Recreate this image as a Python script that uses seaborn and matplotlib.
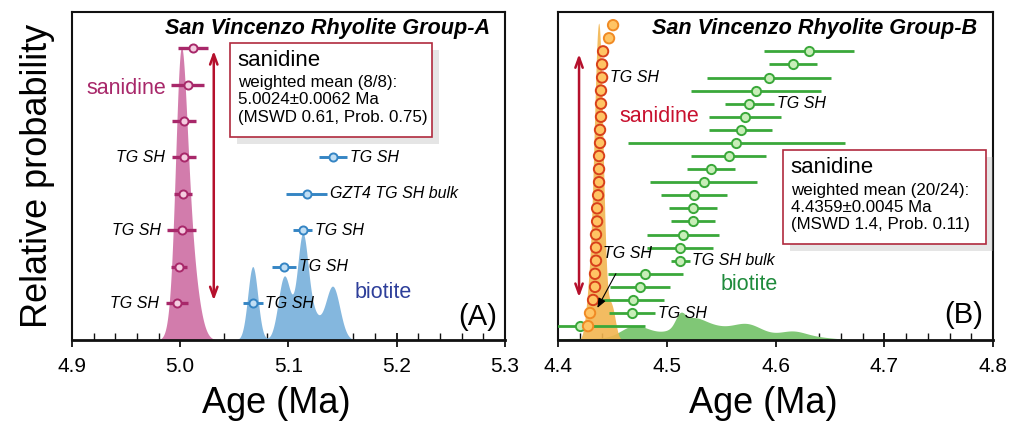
import numpy as np
import matplotlib.pyplot as plt
import seaborn as sns
from matplotlib import font_manager
from matplotlib import patheffects as pe
from matplotlib.patches import Rectangle
from matplotlib.ticker import MultipleLocator

# ── Panel A: San Vincenzo Rhyolite Group-A (age in Ma, 2σ errors) ──
san_a_age = [5.0118, 5.0070, 5.0035, 5.0035, 5.0025, 5.0016, 4.9988, 4.9970]
san_a_err = [0.0139, 0.0152, 0.0111, 0.0115, 0.0083, 0.0134, 0.0074, 0.0102]
san_a_lab = ['', '', '', 'TG SH', '', 'TG SH', '', 'TG SH']

bio_a_age = [5.1410, 5.1170, 5.1130, 5.0960, 5.0670]
bio_a_err = [0.0129, 0.0189, 0.0092, 0.0111, 0.0092]
bio_a_row = [3, 4, 5, 6, 7]
bio_a_lab = ['TG SH', 'GZT4 TG SH bulk', 'TG SH', 'TG SH', 'TG SH']

# ── Panel B: San Vincenzo Rhyolite Group-B ──
san_b_age = [4.4506, 4.4469, 4.4414, 4.4405, 4.4405, 4.4395, 4.4395, 4.4395,
             4.4386, 4.4386, 4.4377, 4.4377, 4.4377, 4.4368, 4.4359, 4.4359,
             4.4349, 4.4349, 4.4349, 4.4340, 4.4340, 4.4322, 4.4294, 4.4276]
san_b_err = [0.006] * 24          # smaller than the symbols, estimated
san_b_used = [False, False] + [True] * 20 + [False, False]
san_b_lab = {4: 'TG SH'}

bio_b_age = [4.6308, 4.6160, 4.5940, 4.5820, 4.5760, 4.5720, 4.5680, 4.5640,
             4.5570, 4.5410, 4.5340, 4.5250, 4.5240, 4.5240, 4.5149, 4.5122,
             4.5122, 4.4800, 4.4754, 4.4690, 4.4680, 4.4202]
bio_b_err = [0.041, 0.022, 0.057, 0.060, 0.0225, 0.033, 0.029, 0.100,
             0.0345, 0.022, 0.049, 0.030, 0.022, 0.020, 0.033, 0.030,
             0.0087, 0.0345, 0.0276, 0.0285, 0.021, 0.060]
bio_b_lab = {4: 'TG SH', 16: 'TG SH bulk', 20: 'TG SH'}

# ── Style ──
sns.set_theme(style='white')
names = {f.name for f in font_manager.fontManager.ttflist}
NARROW = 'Liberation Sans Narrow' if 'Liberation Sans Narrow' in names else 'Liberation Sans'
plt.rcParams['font.family'] = ['Liberation Sans', 'DejaVu Sans']
plt.rcParams.update({'text.color': 'black', 'axes.labelcolor': 'black',
                     'xtick.color': 'black'})

PINK, PINK_FILL = '#a8286a', '#d27cac'
BLUE, BLUE_FILL = '#3585c4', '#84b7de'
GREEN, GREEN_FILL = '#3aa83a', '#80c776'
ORANGE_FILL, ORANGE_EDGE = '#f2b550', '#d8401a'
ARROW_RED = '#b5102c'


def pdf_sum(grid, ages, errs):
    a = np.asarray(ages)[:, None]
    s = np.asarray(errs)[:, None] / 2.0
    return (np.exp(-0.5 * ((grid - a) / s) ** 2) / (s * np.sqrt(2 * np.pi))).sum(axis=0)


def style_axes(ax, lo, hi):
    ax.set_xlim(lo, hi)
    ax.set_ylim(0, 1)
    ax.set_yticks([])
    ax.xaxis.set_major_locator(MultipleLocator(0.1))
    ax.xaxis.set_minor_locator(MultipleLocator(0.02))
    fs = 17 if NARROW != 'Liberation Sans' else 15
    ax.tick_params(axis='x', which='major', direction='inout', length=10,
                   width=1.3, color='#111111', bottom=True, pad=7,
                   labelsize=fs, labelfontfamily=NARROW, labelcolor='black')
    ax.tick_params(axis='x', which='minor', direction='in', length=5,
                   width=1.0, color='#111111', bottom=True)
    for side, sp in ax.spines.items():
        sp.set_color('#111111')
        sp.set_linewidth(2.0 if side == 'bottom' else 1.5)
    ax.set_xlabel('Age (Ma)', fontsize=26, labelpad=2)
    ax.xaxis.set_label_coords(0.472, -0.14)


def errpoints(ax, ages, errs, ys, color, face, size, lw):
    ages = np.asarray(ages)
    errs = np.asarray(errs)
    ax.hlines(ys, ages - errs, ages + errs, color=color, lw=lw, zorder=4)
    sns.scatterplot(x=ages, y=ys, ax=ax, s=size, color=face, edgecolor=color,
                    linewidth=1.4, zorder=5, legend=False)


def info_box(ax, x0, y0, x1, y1, head, body):
    box = Rectangle((x0, y0), x1 - x0, y1 - y0, transform=ax.transAxes,
                    facecolor='white', edgecolor='#b02a3e', lw=1.2, zorder=7,
                    path_effects=[pe.SimplePatchShadow(offset=(5, -5),
                                                       shadow_rgbFace='#aaaaaa',
                                                       alpha=0.3), pe.Normal()])
    ax.add_patch(box)
    ax.text(x0 + 0.018, y1 - 0.052, head, transform=ax.transAxes, fontsize=16,
            va='center', ha='left', zorder=8)
    ax.text(x0 + 0.018, y1 - 0.098, body, transform=ax.transAxes, fontsize=12.2,
            va='top', ha='left', linespacing=1.18, zorder=8)


fig = plt.figure(figsize=(10.15, 4.21), dpi=100)
fig.patch.set_facecolor('white')
axA = fig.add_axes([0.0709, 0.1924, 0.4266, 0.779])
axB = fig.add_axes([0.5498, 0.1924, 0.4286, 0.779])

# ══════════════ Panel A ══════════════
rows_a = 0.890 - 0.1111 * np.arange(len(san_a_age))
grid_a = np.linspace(4.9, 5.3, 3000)
dens_san_a = pdf_sum(grid_a, san_a_age, san_a_err)
dens_bio_a = pdf_sum(grid_a, bio_a_age, bio_a_err)
# each mineral's curve scaled to its own peak height (fraction of the axes)
axA.fill_between(grid_a, 0, dens_bio_a / dens_bio_a.max() * 0.326,
                 color=BLUE_FILL, lw=0, zorder=1)
axA.fill_between(grid_a, 0, dens_san_a / dens_san_a.max() * 0.893,
                 color=PINK_FILL, lw=0, zorder=1)

errpoints(axA, san_a_age, san_a_err, rows_a, PINK, '#f4cce0', 34, 2.4)
bio_rows_a = rows_a[bio_a_row]
errpoints(axA, bio_a_age, bio_a_err, bio_rows_a, BLUE, '#c0def4', 34, 2.1)

for age, err, y, lab in zip(san_a_age, san_a_err, rows_a, san_a_lab):
    if lab:
        axA.annotate(lab, (age - err, y), xytext=(-5, 0), textcoords='offset points',
                     ha='right', va='center', fontsize=11.5, style='italic', zorder=6)
for age, err, y, lab in zip(bio_a_age, bio_a_err, bio_rows_a, bio_a_lab):
    axA.annotate(lab, (age + err, y), xytext=(2, 0), textcoords='offset points',
                 ha='left', va='center', fontsize=11.5, style='italic', zorder=6)

axA.annotate('', xy=(5.031, rows_a[0]), xytext=(5.031, rows_a[-1]),
             arrowprops=dict(arrowstyle='<->,head_length=0.6,head_width=0.22',
                             color=ARROW_RED, lw=1.8), zorder=6)
axA.text(4.9868, 0.768, 'sanidine', color=PINK, fontsize=15.5, ha='right', va='center')
axA.text(5.1614, 0.146, 'biotite', color='#2e3f9a', fontsize=15.5, ha='left', va='center')
axA.text(0.983, 0.07, '(A)', transform=axA.transAxes, fontsize=21, ha='right', va='center')
axA.text(0.965, 0.951, 'San Vincenzo Rhyolite Group-A', transform=axA.transAxes,
         fontsize=15.6, fontweight='bold', style='italic', ha='right', va='center')
info_box(axA, 0.365, 0.618, 0.831, 0.905, 'sanidine',
         'weighted mean (8/8):\n5.0024±0.0062 Ma\n(MSWD 0.61, Prob. 0.75)')
style_axes(axA, 4.9, 5.3)
axA.set_ylabel('Relative probability', fontsize=26, labelpad=12)

# ══════════════ Panel B ══════════════
rows_b = 0.960 - 0.0399 * np.arange(len(san_b_age))
grid_b = np.linspace(4.4, 4.8, 3000)
dens_san_b = pdf_sum(grid_b, san_b_age, san_b_err)
dens_bio_b = pdf_sum(grid_b, bio_b_age, bio_b_err)
axB.fill_between(grid_b, 0, dens_bio_b / dens_bio_b.max() * 0.085,
                 color=GREEN_FILL, lw=0, zorder=1)
axB.fill_between(grid_b, 0, dens_san_b / dens_san_b.max() * 0.966,
                 color=ORANGE_FILL, alpha=0.9, lw=0, zorder=2)

bio_rows_b = rows_b[2:2 + len(bio_b_age)]
errpoints(axB, bio_b_age, bio_b_err, bio_rows_b, GREEN, '#c8eeb8', 44, 2.0)
for age, err, y, lab in zip(bio_b_age, bio_b_err, bio_rows_b, range(len(bio_b_age))):
    if lab in bio_b_lab:
        axB.annotate(bio_b_lab[lab], (age + err, y), xytext=(2, 0),
                     textcoords='offset points', ha='left', va='center',
                     fontsize=11.5, style='italic', zorder=6)

edge_b = [ORANGE_EDGE if u else '#f08a24' for u in san_b_used]
sns.scatterplot(x=san_b_age, y=rows_b, ax=axB, s=56, color='#ffc464',
                edgecolor=edge_b, linewidth=1.4, zorder=6, legend=False)
for i, lab in san_b_lab.items():
    axB.annotate(lab, (san_b_age[i], rows_b[i]), xytext=(6, 0),
                 textcoords='offset points', ha='left', va='center',
                 fontsize=11.5, style='italic', zorder=6)
axB.annotate('TG SH', xy=(4.4349, rows_b[22] + 0.008), xytext=(4.4634, 0.265),
             ha='center', va='center', fontsize=11.5, style='italic', zorder=7,
             arrowprops=dict(arrowstyle='-|>,head_length=0.5,head_width=0.2',
                             color='black', lw=0.8, shrinkA=8, shrinkB=2))

axB.annotate('', xy=(4.4193, rows_b[2]), xytext=(4.4193, rows_b[21]),
             arrowprops=dict(arrowstyle='<->,head_length=0.6,head_width=0.22',
                             color=ARROW_RED, lw=1.8), zorder=6)
axB.text(4.4561, 0.680, 'sanidine', color='#c8102e', fontsize=15.5, ha='left', va='center')
axB.text(4.549, 0.168, 'biotite', color='#1f8b3c', fontsize=15.5, ha='left', va='center')
axB.text(0.977, 0.076, '(B)', transform=axB.transAxes, fontsize=21, ha='right', va='center')
axB.text(0.963, 0.951, 'San Vincenzo Rhyolite Group-B', transform=axB.transAxes,
         fontsize=15.6, fontweight='bold', style='italic', ha='right', va='center')
info_box(axB, 0.517, 0.294, 0.984, 0.578, 'sanidine',
         'weighted mean (20/24):\n4.4359±0.0045 Ma\n(MSWD 1.4, Prob. 0.11)')
style_axes(axB, 4.4, 4.8)

fig.savefig('out.png', dpi=100, facecolor='white')
